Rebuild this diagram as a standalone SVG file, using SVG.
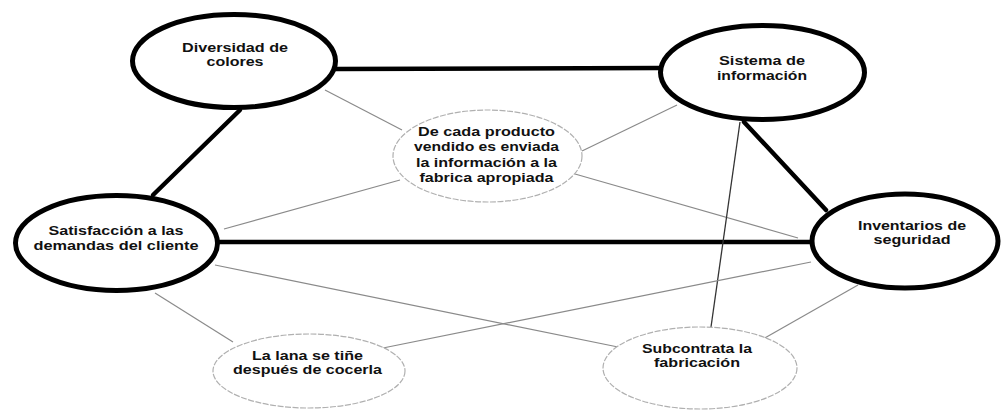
<svg xmlns="http://www.w3.org/2000/svg" width="1007" height="410" viewBox="0 0 1007 410">
<style>
.bg{fill:#ffffff}
.thick{fill:none;stroke:#000;stroke-width:4.5;stroke-linecap:round}
.thin{fill:none;stroke:#8a8a8a;stroke-width:1.2}
.dark{fill:none;stroke:#333;stroke-width:1.3}
.main{fill:#fff;stroke:#000;stroke-width:5}
.sub{fill:#fff;stroke:#b0b0b0;stroke-width:1.2;stroke-dasharray:6 1.5}
text{font-family:"Liberation Sans",Arial,sans-serif;font-weight:bold;font-size:12.5px;fill:#111;text-anchor:middle}
</style>
<rect class="bg" x="0" y="0" width="1007" height="410"/>
<g id="connectors">
<line class="thick" x1="336" y1="69" x2="660" y2="68"/>
<line class="thick" x1="240" y1="110" x2="153" y2="195"/>
<line class="thick" x1="744" y1="122" x2="826" y2="210"/>
<line class="thick" x1="218" y1="242" x2="820" y2="242"/>
<line class="thin" x1="325" y1="90" x2="402" y2="130"/>
<line class="thin" x1="582" y1="151" x2="677" y2="105"/>
<line class="thin" x1="400" y1="180" x2="224" y2="229"/>
<line class="thin" x1="575" y1="174" x2="798" y2="238"/>
<line class="dark" x1="740" y1="122" x2="711" y2="327"/>
<line class="thin" x1="215" y1="265" x2="618" y2="347"/>
<line class="thin" x1="383" y1="348" x2="811" y2="262"/>
<line class="thin" x1="155" y1="293" x2="233" y2="342"/>
<line class="thin" x1="763" y1="339" x2="858" y2="285"/>
</g>
<g id="diversidad">
<ellipse class="main" cx="234" cy="61" rx="101.5" ry="46.5"/>
<text x="235" y="51.5" textLength="106" lengthAdjust="spacingAndGlyphs">Diversidad de</text>
<text x="235" y="65.5" textLength="57" lengthAdjust="spacingAndGlyphs">colores</text>
</g>
<g id="sistema">
<ellipse class="main" cx="762.5" cy="72.5" rx="102" ry="47"/>
<text x="762" y="65" textLength="86" lengthAdjust="spacingAndGlyphs">Sistema de</text>
<text x="762" y="79.5" textLength="90" lengthAdjust="spacingAndGlyphs">información</text>
</g>
<g id="inventarios">
<ellipse class="main" cx="905" cy="241" rx="93" ry="47"/>
<text x="912" y="230" textLength="108" lengthAdjust="spacingAndGlyphs">Inventarios de</text>
<text x="912" y="244" textLength="77" lengthAdjust="spacingAndGlyphs">seguridad</text>
</g>
<g id="satisfaccion">
<ellipse class="main" cx="116.5" cy="243" rx="101" ry="47.5"/>
<text x="116" y="235" textLength="135" lengthAdjust="spacingAndGlyphs">Satisfacción a las</text>
<text x="116" y="249.5" textLength="165" lengthAdjust="spacingAndGlyphs">demandas del cliente</text>
</g>
<g id="decada">
<ellipse class="sub" cx="487.5" cy="156" rx="94.5" ry="46"/>
<text x="486.5" y="135.5" textLength="137" lengthAdjust="spacingAndGlyphs">De cada producto</text>
<text x="486.5" y="151" textLength="145" lengthAdjust="spacingAndGlyphs">vendido es enviada</text>
<text x="486.5" y="166.5" textLength="141" lengthAdjust="spacingAndGlyphs">la información a la</text>
<text x="486.5" y="182" textLength="134" lengthAdjust="spacingAndGlyphs">fabrica apropiada</text>
</g>
<g id="lana">
<ellipse class="sub" cx="309" cy="371" rx="96" ry="37"/>
<text x="307.5" y="360" textLength="111" lengthAdjust="spacingAndGlyphs">La lana se tiñe</text>
<text x="307.5" y="374" textLength="149" lengthAdjust="spacingAndGlyphs">después de cocerla</text>
</g>
<g id="subcontrata">
<ellipse class="sub" cx="700" cy="368" rx="97" ry="41"/>
<text x="697" y="353" textLength="110" lengthAdjust="spacingAndGlyphs">Subcontrata la</text>
<text x="697" y="367" textLength="86" lengthAdjust="spacingAndGlyphs">fabricación</text>
</g>
</svg>
